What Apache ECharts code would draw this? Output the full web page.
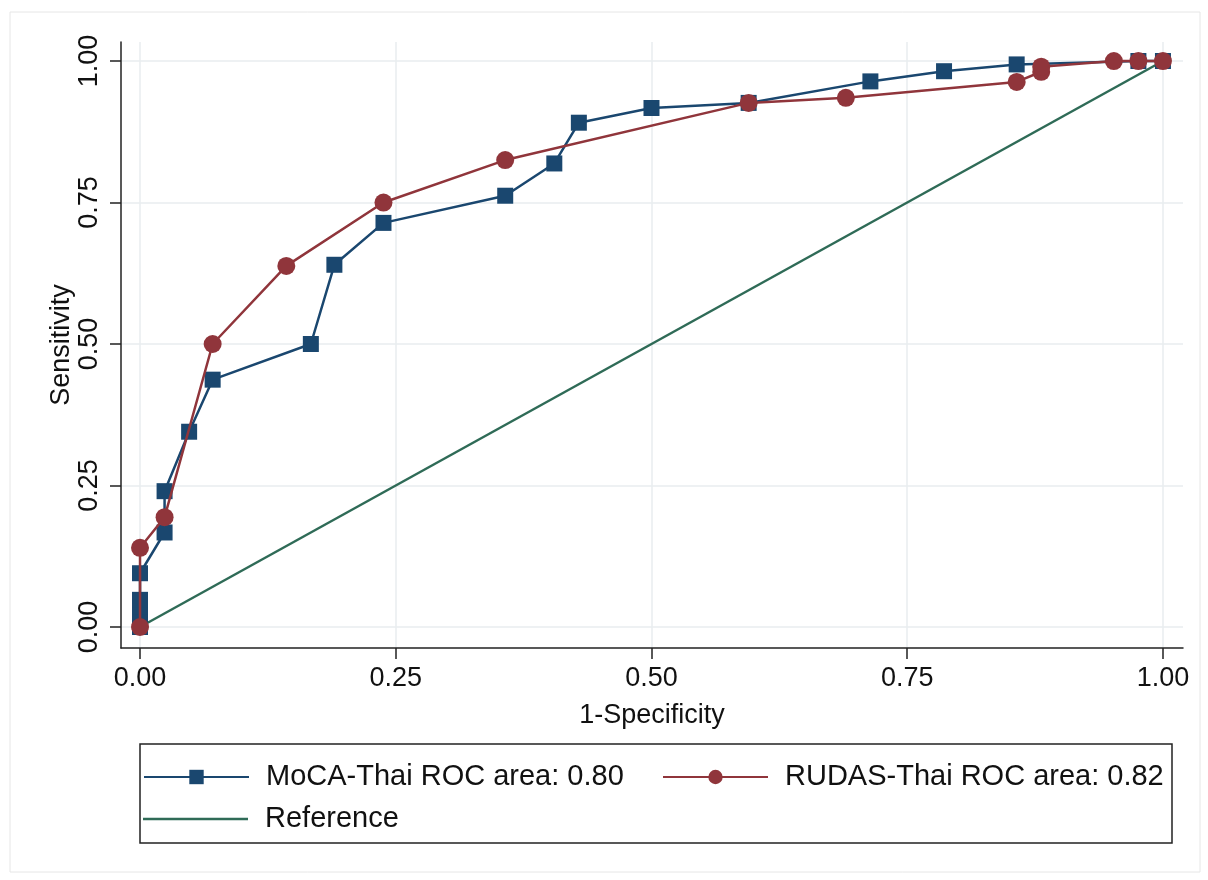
<!DOCTYPE html>
<html>
<head>
<meta charset="utf-8">
<title>ROC curves</title>
<script src="https://cdn.jsdelivr.net/npm/echarts@6/dist/echarts.min.js"></script>
<style>
  html, body {margin: 0; padding: 0; background: #fff;}
  #chart {width: 1208px; height: 880px;}
</style>
</head>
<body>
<div id="chart"></div>
<script>
// ROC points (x = 1-specificity, y = sensitivity)
const mocaX = [0, 0, 0, 0, 0, 0, 0.024, 0.024, 0.048, 0.071, 0.167, 0.190, 0.238, 0.357, 0.405, 0.429, 0.500, 0.595, 0.714, 0.786, 0.857, 0.976, 1];
const mocaY = [0, 0.012, 0.024, 0.036, 0.048, 0.095, 0.167, 0.240, 0.345, 0.437, 0.500, 0.640, 0.714, 0.762, 0.819, 0.891, 0.917, 0.926, 0.964, 0.982, 0.994, 1, 1];

const rudasX = [0, 0, 0.024, 0.071, 0.143, 0.238, 0.357, 0.595, 0.690, 0.857, 0.881, 0.881, 0.952, 0.976, 1];
const rudasY = [0, 0.140, 0.194, 0.500, 0.638, 0.750, 0.825, 0.926, 0.935, 0.963, 0.981, 0.990, 1, 1, 1];

const refX = [0, 1];
const refY = [0, 1];

const tickValues = [0, 0.25, 0.5, 0.75, 1];

const seriesNames = [
  'MoCA-Thai ROC area: 0.80',
  'RUDAS-Thai ROC area: 0.82',
  'Reference',
];

const NAVY = '#1a476f';
const MAROON = '#90353b';
const GREEN = '#2f6b57';
const GRID = '#e9ecef';
const FONT = '"Liberation Sans", Arial, Helvetica, sans-serif';

// pair up x/y arrays for the value axes
function zip(xs, ys) {
  return xs.map((x, i) => [x, ys[i]]);
}

// plot region spans a bit beyond 0..1 like Stata does
const xMin = -0.0186, xMax = 1.0196;
const yMin = -0.0371, yMax = 1.0336;

const labelStyle = {
  color: '#111',
  fontSize: 27,
  fontFamily: FONT,
  formatter: (v) => v.toFixed(2),
  customValues: tickValues,
};

const tickStyle = {
  show: true,
  length: 11,
  lineStyle: {color: '#222', width: 1.5},
  customValues: tickValues,
};

const legendBase = {
  orient: 'horizontal',
  padding: 0,
  itemWidth: 105,
  itemHeight: 18,
  selectedMode: false,
  textStyle: {
    color: '#111',
    fontSize: 29,
    fontFamily: FONT,
    lineHeight: 30,
    padding: [0, 0, 0, 12],
  },
};

const option = {
  backgroundColor: '#fff',
  animation: false,
  grid: {left: 121, right: 25, top: 42, bottom: 232, containLabel: false},
  xAxis: {
    type: 'value',
    min: xMin,
    max: xMax,
    name: '1-Specificity',
    nameLocation: 'middle',
    nameGap: 54,
    nameMoveOverlap: false,
    nameTextStyle: {color: '#111', fontSize: 27, fontFamily: FONT},
    axisLine: {show: true, onZero: false, lineStyle: {color: '#222', width: 1.5}},
    axisTick: tickStyle,
    axisLabel: Object.assign({margin: 17}, labelStyle),
    splitLine: {show: false},
  },
  yAxis: {
    type: 'value',
    min: yMin,
    max: yMax,
    name: 'Sensitivity',
    nameLocation: 'middle',
    nameGap: 46,
    nameMoveOverlap: false,
    nameTextStyle: {color: '#111', fontSize: 27, fontFamily: FONT},
    axisLine: {show: true, onZero: false, lineStyle: {color: '#222', width: 1.5}},
    axisTick: tickStyle,
    axisLabel: Object.assign({
      margin: 18,
      rotate: 90,
      align: 'center',
      verticalAlign: 'bottom',
    }, labelStyle),
    splitLine: {show: false},
  },
  legend: [
    Object.assign({left: 143, top: 762, data: [seriesNames[0]]}, legendBase),
    Object.assign({left: 662, top: 762, data: [seriesNames[1]]}, legendBase),
    // plain line key for the reference diagonal
    Object.assign({}, legendBase, {
      left: 143,
      top: 804,
      itemHeight: 2.5,
      data: [{name: seriesNames[2], icon: 'rect'}],
    }),
  ],
  graphic: [
    { // faint outer frame of the graph
      type: 'rect',
      silent: true,
      shape: {x: 10, y: 12, width: 1190, height: 860},
      style: {fill: 'none', stroke: '#e6e6e6', lineWidth: 1},
    },
    { // legend box
      type: 'rect',
      silent: true,
      shape: {x: 140, y: 744, width: 1032, height: 99},
      style: {fill: 'none', stroke: '#222', lineWidth: 1.5},
    },
  ],
  series: [
    {
      name: seriesNames[0],
      type: 'line',
      z: 3,
      data: zip(mocaX, mocaY),
      symbol: 'rect',
      symbolSize: 16,
      itemStyle: {color: NAVY},
      lineStyle: {color: NAVY, width: 2.5},
      // gridlines at the tick values
      markLine: {
        silent: true,
        symbol: 'none',
        z: 0,
        label: {show: false},
        lineStyle: {color: GRID, width: 1.5, type: 'solid'},
        data: tickValues.map((v) => ({xAxis: v}))
          .concat(tickValues.map((v) => ({yAxis: v}))),
      },
    },
    {
      name: seriesNames[1],
      type: 'line',
      z: 4,
      data: zip(rudasX, rudasY),
      symbol: 'circle',
      symbolSize: 18,
      itemStyle: {color: MAROON},
      lineStyle: {color: MAROON, width: 2.5},
    },
    {
      name: seriesNames[2],
      type: 'line',
      z: 2,
      data: zip(refX, refY),
      symbol: 'none',
      itemStyle: {color: GREEN},
      lineStyle: {color: GREEN, width: 2.5},
    },
  ],
};

const chart = echarts.init(document.getElementById('chart'), null, {renderer: 'canvas'});
chart.setOption(option);
</script>
</body>
</html>
